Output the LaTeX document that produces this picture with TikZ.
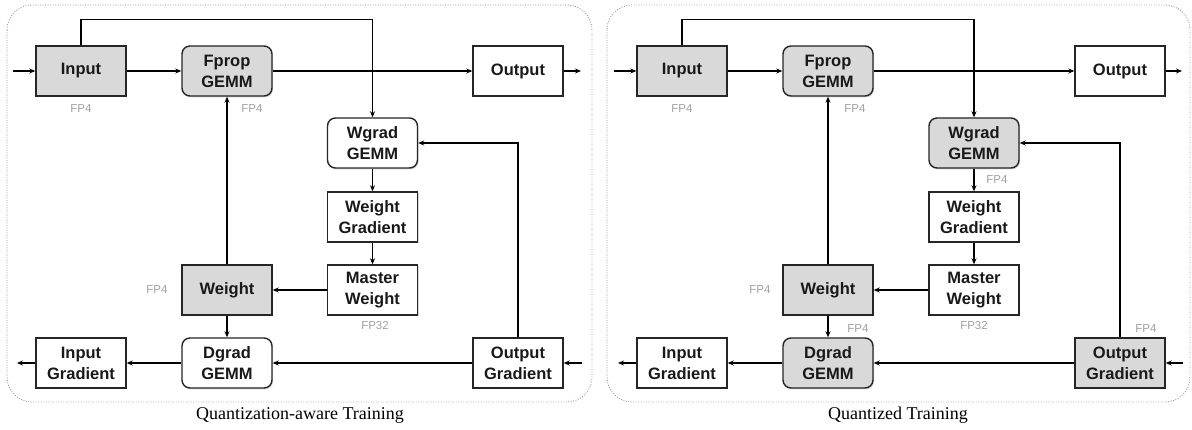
\documentclass[tikz,border=0pt]{standalone}
\usepackage{fontspec}
\setmainfont{Liberation Sans}
\newfontfamily\boxfont{Liberation Sans}
\newfontfamily\capfont{Liberation Serif}
\usetikzlibrary{arrows.meta,shadows}
\definecolor{boxgray}{HTML}{D9D9D9}
\definecolor{fpgray}{HTML}{A0A0A0}
\begin{document}
\begin{tikzpicture}[x=1pt,y=-1pt,
  box/.style={draw=black!85, line width=1.4pt, minimum width=90pt, minimum height=50pt,
    inner sep=0pt, align=center, fill=white, text=black!90,
    font=\boxfont\bfseries\fontsize{16.5}{21}\selectfont,
    drop shadow={shadow xshift=1pt, shadow yshift=-1.5pt, opacity=0.3}},
  gemm/.style={box, rounded corners=8pt},
  gbox/.style={fill=boxgray},
  fp/.style={text=fpgray, font=\fontsize{11.5}{13}\selectfont, inner sep=0pt},
  arr/.style={line width=1.1pt, -{Stealth[length=6pt,width=5pt]}},
  panel/.style={draw=black!40, line width=0.9pt, dash pattern=on 0.9pt off 1.6pt, rounded corners=25pt},
  captext/.style={font=\capfont\fontsize{18}{20}\selectfont, inner sep=0pt}]
\useasboundingbox (0,0) rectangle (1192,430);
\fill[white] (0,0) rectangle (1192,430);

% ---------------- Left panel ----------------
\draw[panel] (7,5) rectangle (592,402);
\node[box,gbox] (Lin) at (81,71) {Input};
\node[gemm,gbox] (Lfp) at (227,71) {Fprop\\GEMM};
\node[box] (Lout) at (518,71) {Output};
\node[gemm] (Lwg) at (372.5,143) {Wgrad\\GEMM};
\node[box] (Lwgr) at (372.5,217) {Weight\\Gradient};
\node[box] (Lmw) at (372.5,290) {Master\\Weight};
\node[box,gbox] (Lw) at (227,290) {Weight};
\node[gemm] (Ldg) at (227,363) {Dgrad\\GEMM};
\node[box] (Lig) at (81,363) {Input\\Gradient};
\node[box] (Log) at (518,363) {Output\\Gradient};
\coordinate (Lsrc) at (13,71);
\coordinate (Lsnk) at (581,71);
\coordinate (Lgsrc) at (582,363);
\coordinate (Lgsnk) at (17,363);

\node[fp] (Lf1) at (81,109) {FP4};
\node[fp] (Lf2) at (252,109) {FP4};
\node[fp] (Lf3) at (157,290) {FP4};
\node[fp] (Lf4) at (375,326) {FP32};

\draw[arr] (Lsrc) -- (Lin);
\draw[arr] (Lin) -- (Lfp);
\draw[arr] (Lfp) -- (Lout);
\draw[arr] (Lout) -- (Lsnk);
\draw[arr] (Lin.north) -- ++(0,-26) -| (Lwg.north);
\draw[arr] (Lwg) -- (Lwgr);
\draw[arr] (Lwgr) -- (Lmw);
\draw[arr] (Lmw) -- (Lw);
\draw[arr] (Lw) -- (Lfp);
\draw[arr] (Lw) -- (Ldg);
\draw[arr] (Log) -- (Ldg);
\draw[arr] (Ldg) -- (Lig);
\draw[arr] (Lig) -- (Lgsnk);
\draw[arr] (Lgsrc) -- (Log);
\draw[arr] (Log.north) |- (Lwg.east);
\node[captext] (Lcap) at (300,415) {Quantization-aware Training};

% ---------------- Right panel ----------------
\draw[panel] (607,5) rectangle (1190,402);
\node[box,gbox] (Rin) at (682,71) {Input};
\node[gemm,gbox] (Rfp) at (828,71) {Fprop\\GEMM};
\node[box] (Rout) at (1120,71) {Output};
\node[gemm,gbox] (Rwg) at (974,143) {Wgrad\\GEMM};
\node[box] (Rwgr) at (974,217) {Weight\\Gradient};
\node[box] (Rmw) at (974,290) {Master\\Weight};
\node[box,gbox] (Rw) at (828,290) {Weight};
\node[gemm,gbox] (Rdg) at (828,363) {Dgrad\\GEMM};
\node[box] (Rig) at (682,363) {Input\\Gradient};
\node[box,gbox] (Rog) at (1120,363) {Output\\Gradient};
\coordinate (Rsrc) at (614,71);
\coordinate (Rsnk) at (1182,71);
\coordinate (Rgsrc) at (1183,363);
\coordinate (Rgsnk) at (618,363);

\node[fp] (Rf1) at (682,109) {FP4};
\node[fp] (Rf2) at (855,109) {FP4};
\node[fp] (Rf3) at (760,290) {FP4};
\node[fp] (Rf4) at (974,326) {FP32};
\node[fp] (Rf5) at (997,180) {FP4};
\node[fp] (Rf6) at (858,329) {FP4};
\node[fp] (Rf7) at (1146,329) {FP4};

\draw[arr] (Rsrc) -- (Rin);
\draw[arr] (Rin) -- (Rfp);
\draw[arr] (Rfp) -- (Rout);
\draw[arr] (Rout) -- (Rsnk);
\draw[arr] (Rin.north) -- ++(0,-26) -| (Rwg.north);
\draw[arr] (Rwg) -- (Rwgr);
\draw[arr] (Rwgr) -- (Rmw);
\draw[arr] (Rmw) -- (Rw);
\draw[arr] (Rw) -- (Rfp);
\draw[arr] (Rw) -- (Rdg);
\draw[arr] (Rog) -- (Rdg);
\draw[arr] (Rdg) -- (Rig);
\draw[arr] (Rig) -- (Rgsnk);
\draw[arr] (Rgsrc) -- (Rog);
\draw[arr] (Rog.north) |- (Rwg.east);
\node[captext] (Rcap) at (898,415) {Quantized Training};
\end{tikzpicture}
\end{document}
